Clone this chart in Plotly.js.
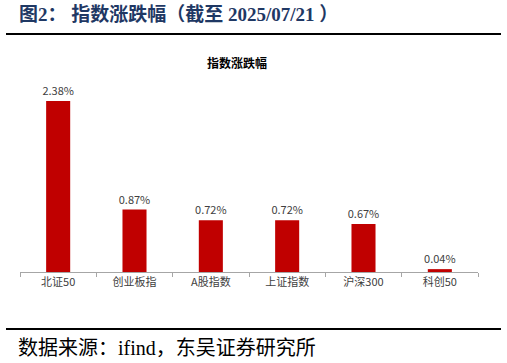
<!DOCTYPE html>
<html><head><meta charset="utf-8">
<script src="https://cdn.plot.ly/plotly-3.0.1.min.js"></script>
<style>html,body{margin:0;padding:0;background:#fff;}#c{width:507px;height:363px;}</style>
</head><body><div id="c"></div>
<script>
const categories = ["北证50", "创业板指", "A股指数", "上证指数", "沪深300", "科创50"];
const values = [2.38, 0.87, 0.72, 0.72, 0.67, 0.04];
const valueLabels = values.map(v => v.toFixed(2) + "%");

const pxToPaperY = y => (272 - y) / 192;
const pxToPaperX = x => (x - 20) / 458;

const trace = {
  type: "bar",
  x: categories,
  y: values,
  text: valueLabels,
  textposition: "outside",
  constraintext: "none",
  cliponaxis: false,
  textfont: {family: "Noto Sans CJK SC, Noto Sans, sans-serif", size: 11, color: "#404040"},
  marker: {color: "#C00000"},
  width: 0.315,
  hoverinfo: "none"
};

const layout = {
  width: 507, height: 363,
  margin: {l: 20, r: 29, t: 80, b: 91},
  paper_bgcolor: "#fff", plot_bgcolor: "#fff",
  showlegend: false,
  xaxis: {
    type: "category",
    range: [-0.5, 5.5],
    showline: true, linecolor: "#A6A6A6", linewidth: 1,
    ticks: "outside", tickson: "boundaries", ticklen: 4, tickcolor: "#A6A6A6",
    tickfont: {family: "Noto Sans CJK SC, Noto Sans, sans-serif", size: 11, color: "#404040"},
    showgrid: false, zeroline: false, fixedrange: true
  },
  yaxis: {
    range: [0, 2.674], visible: false, showgrid: false, zeroline: false, fixedrange: true
  },
  annotations: [
    {text: "<b>图2： 指数涨跌幅（截至 2025/07/21 ）</b>", xref: "paper", yref: "paper",
     x: pxToPaperX(17), y: pxToPaperY(15), xanchor: "left", yanchor: "middle", showarrow: false,
     font: {family: "Liberation Serif, Noto Sans CJK SC, serif", size: 19, color: "#1F3864"}},
    {text: "<b>指数涨跌幅</b>", xref: "paper", yref: "paper",
     x: pxToPaperX(237), y: pxToPaperY(63), xanchor: "center", yanchor: "middle", showarrow: false,
     font: {family: "Noto Sans CJK SC, sans-serif", size: 12, color: "#000"}},
    {text: "数据来源：ifind，东吴证券研究所", xref: "paper", yref: "paper",
     x: pxToPaperX(16), y: pxToPaperY(348), xanchor: "left", yanchor: "middle", showarrow: false,
     font: {family: "Liberation Serif, Noto Sans CJK SC, serif", size: 20, color: "#000"}}
  ],
  shapes: [
    {type: "line", xref: "paper", yref: "paper", x0: pxToPaperX(6), x1: pxToPaperX(501),
     y0: pxToPaperY(34), y1: pxToPaperY(34), line: {color: "#000", width: 2}},
    {type: "line", xref: "paper", yref: "paper", x0: pxToPaperX(6), x1: pxToPaperX(501),
     y0: pxToPaperY(329), y1: pxToPaperY(329), line: {color: "#000", width: 2}}
  ]
};

Plotly.newPlot("c", [trace], layout, {displayModeBar: false, staticPlot: true});
</script></body></html>
